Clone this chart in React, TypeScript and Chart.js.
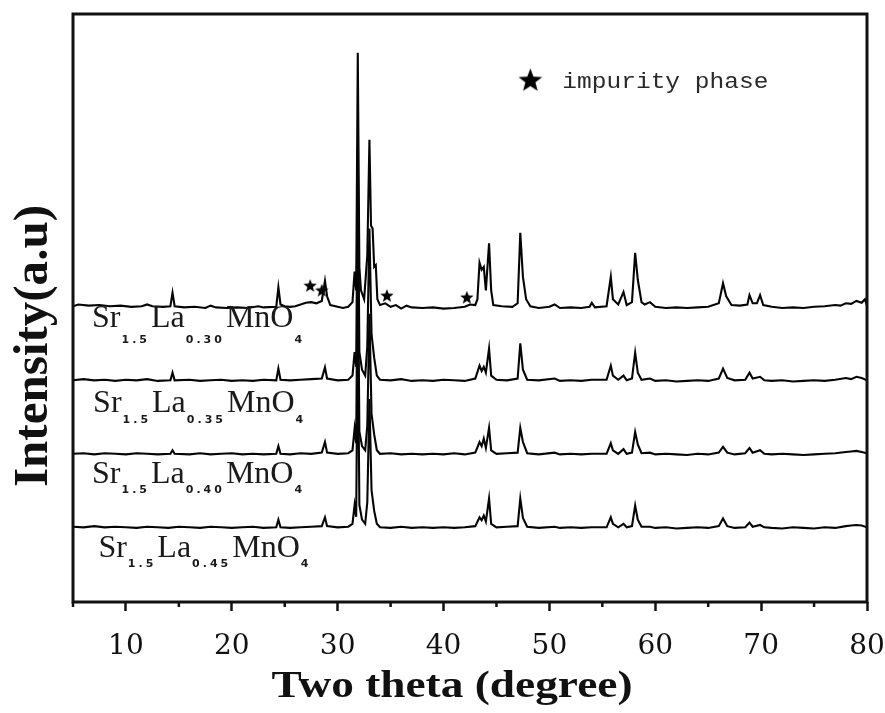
import { useEffect, useRef } from "react";
import { Chart, registerables } from "chart.js";

Chart.register(...registerables);

// ---------- data ----------
// relative intensities (a.u.) above each pattern's own baseline, [2θ, I]
const pattern030: [number, number][] = [
  [5.0, 0.3], [5.5, 0.6], [6.5, 0.4], [7.5, 0.5], [8.5, 0.3], [9.5, 0.4], [10.5, 0.2], [11.5, 0.3],
  [12.0, 0.6], [12.5, 0.3], [13.5, 0.2], [14.2, 0.3], [14.4, 2.6], [14.6, 0.3], [15.5, 0.1],
  [16.5, 0.2], [17.5, 0.0], [18.0, 0.4], [18.5, 0.1], [19.5, 0.0], [20.5, 0.1], [21.5, 0.0],
  [22.5, 0.3], [23.0, 0.1], [24.2, 0.2], [24.4, 3.5], [24.6, 0.6], [25.0, 0.3], [25.5, 0.2],
  [26.0, 0.3], [26.5, 0.6], [27.0, 0.9], [27.5, 1.0], [28.0, 0.8], [28.5, 1.2], [28.8, 4.6],
  [29.0, 2.0], [29.3, 0.5], [30.0, 0.2], [30.5, 0.0], [31.0, 0.2], [31.4, 1.0], [31.6, 6.2],
  [31.75, 3.0], [31.9, 43.4], [32.05, 7.0], [32.2, 3.0], [32.5, 1.5], [32.8, 9.0], [33.0, 28.6],
  [33.15, 14.0], [33.3, 13.5], [33.45, 7.0], [33.6, 7.3], [33.75, 1.5], [34.0, 0.5], [34.5, 0.8],
  [35.0, 0.2], [35.5, 0.5], [36.0, -0.1], [36.5, 0.4], [37.0, 0.1], [38.0, 0.0], [39.0, 0.1],
  [40.0, -0.1], [41.0, 0.0], [42.0, 0.2], [42.5, 0.6], [43.0, 0.5], [43.2, 1.5], [43.4, 7.7],
  [43.6, 6.5], [43.8, 7.0], [44.0, 3.0], [44.3, 11.0], [44.5, 3.0], [44.7, 0.5], [45.5, 0.3],
  [46.5, 0.2], [47.0, 0.8], [47.25, 12.8], [47.5, 5.3], [47.8, 1.5], [48.2, 0.3], [49.0, 0.0],
  [50.0, 0.2], [50.5, 0.6], [51.0, 0.0], [52.0, 0.1], [53.0, 0.0], [53.8, 0.2], [54.0, 0.9],
  [54.3, 0.1], [55.4, 0.3], [55.8, 5.3], [56.0, 1.5], [56.5, 0.6], [57.0, 2.7], [57.3, 0.5],
  [57.8, 1.0], [58.1, 9.4], [58.35, 4.8], [58.7, 1.0], [59.0, 0.6], [59.5, 1.0], [60.0, 0.2],
  [61.0, 0.0], [62.0, 0.1], [63.0, 0.0], [64.0, 0.1], [65.0, 0.2], [66.0, 0.8], [66.4, 4.2],
  [66.7, 2.0], [67.2, 0.5], [68.0, 0.4], [68.7, 0.6], [68.9, 2.2], [69.2, 0.8], [69.6, 0.8],
  [69.9, 2.2], [70.2, 0.5], [71.0, 0.2], [72.0, 0.0], [73.0, 0.1], [74.0, 0.0], [75.0, 0.2],
  [76.0, 0.3], [77.0, 0.5], [77.5, 0.4], [78.0, 0.8], [78.5, 0.7], [79.0, 1.2], [79.5, 0.9],
  [79.8, 1.5], [80.0, 0.4],
];

const pattern035: [number, number][] = [
  [5.0, 0.2], [6.0, 0.4], [7.0, 0.2], [8.0, 0.3], [9.0, 0.1], [10.0, 0.3], [11.0, 0.2], [12.0, 0.4],
  [13.0, 0.1], [14.2, 0.2], [14.4, 1.5], [14.6, 0.2], [16.0, 0.3], [17.0, 0.1], [18.0, 0.2],
  [19.0, 0.3], [20.0, 0.1], [21.0, 0.2], [22.0, 0.1], [23.0, 0.3], [24.2, 0.2], [24.4, 2.2],
  [24.6, 0.3], [25.5, 0.2], [26.5, 0.3], [27.5, 0.4], [28.5, 0.5], [28.8, 2.4], [29.0, 0.5],
  [30.0, 0.2], [31.0, 0.3], [31.4, 1.0], [31.6, 5.0], [31.75, 2.5], [31.9, 40.0], [32.05, 5.0],
  [32.3, 2.0], [32.6, 1.0], [32.8, 6.0], [33.0, 26.0], [33.2, 8.0], [33.45, 4.0], [33.7, 1.0],
  [34.0, 0.3], [35.0, 0.2], [36.0, 0.4], [37.0, 0.1], [38.0, 0.2], [39.0, 0.1], [40.0, 0.3],
  [41.0, 0.2], [42.0, 0.1], [43.0, 0.5], [43.4, 2.7], [43.6, 1.8], [43.8, 2.5], [44.0, 1.5],
  [44.3, 5.6], [44.5, 1.0], [45.0, 0.3], [46.0, 0.2], [47.0, 0.5], [47.25, 6.5], [47.5, 2.0],
  [47.9, 0.3], [49.0, 0.2], [50.5, 0.5], [51.0, 0.1], [52.0, 0.2], [53.0, 0.1], [54.0, 0.3],
  [55.4, 0.3], [55.8, 2.7], [56.0, 1.0], [56.5, 0.3], [57.0, 1.0], [57.3, 0.2], [57.8, 0.5],
  [58.1, 4.9], [58.35, 1.5], [58.7, 0.3], [59.5, 0.5], [60.0, 0.1], [61.0, 0.2], [62.0, 0.0],
  [63.0, 0.1], [64.0, 0.2], [65.0, 0.1], [66.0, 0.5], [66.4, 2.2], [66.8, 0.6], [67.5, 0.2],
  [68.5, 0.3], [68.9, 1.5], [69.2, 0.5], [69.9, 0.8], [70.3, 0.2], [71.0, 0.1], [72.0, 0.2],
  [73.0, 0.0], [74.0, 0.1], [75.0, 0.2], [76.0, 0.1], [77.0, 0.3], [78.0, 0.6], [78.5, 0.4],
  [79.0, 0.8], [79.5, 0.6], [80.0, 0.2],
];

const pattern040: [number, number][] = [
  [5.0, 0.2], [6.0, 0.3], [7.0, 0.1], [8.0, 0.3], [9.0, 0.2], [10.0, 0.1], [11.0, 0.3], [12.0, 0.2],
  [13.0, 0.1], [14.2, 0.2], [14.4, 0.8], [14.6, 0.2], [16.0, 0.1], [17.0, 0.3], [18.0, 0.1],
  [19.0, 0.2], [20.0, 0.3], [21.0, 0.1], [22.0, 0.2], [23.0, 0.1], [24.2, 0.2], [24.4, 1.5],
  [24.6, 0.2], [25.5, 0.1], [26.5, 0.3], [27.5, 0.2], [28.5, 0.4], [28.8, 2.2], [29.0, 0.4],
  [30.0, 0.2], [31.0, 0.3], [31.4, 0.8], [31.6, 4.5], [31.75, 2.0], [31.9, 38.0], [32.05, 4.0],
  [32.3, 1.5], [32.6, 0.8], [32.8, 5.0], [33.0, 24.0], [33.2, 7.0], [33.45, 3.5], [33.7, 0.8],
  [34.0, 0.2], [35.0, 0.3], [36.0, 0.1], [37.0, 0.2], [38.0, 0.1], [39.0, 0.2], [40.0, 0.1],
  [41.0, 0.3], [42.0, 0.1], [43.0, 0.4], [43.4, 2.2], [43.6, 1.5], [43.8, 2.8], [44.0, 1.2],
  [44.3, 4.6], [44.5, 0.8], [45.0, 0.2], [46.0, 0.3], [47.0, 0.4], [47.25, 4.6], [47.5, 2.2],
  [47.9, 0.3], [49.0, 0.1], [50.5, 0.4], [51.0, 0.1], [52.0, 0.2], [53.0, 0.1], [54.0, 0.2],
  [55.4, 0.2], [55.8, 2.0], [56.0, 0.8], [56.5, 0.2], [57.0, 1.0], [57.3, 0.2], [57.8, 0.4],
  [58.1, 3.9], [58.35, 1.8], [58.7, 0.3], [59.5, 0.4], [60.0, 0.1], [61.0, 0.2], [62.0, 0.1],
  [63.0, 0.0], [64.0, 0.2], [65.0, 0.1], [66.0, 0.4], [66.4, 1.4], [66.8, 0.4], [67.5, 0.1],
  [68.5, 0.3], [68.9, 1.2], [69.2, 0.4], [69.9, 0.8], [70.3, 0.2], [71.0, 0.1], [72.0, 0.2],
  [73.0, 0.1], [74.0, 0.0], [75.0, 0.1], [76.0, 0.2], [77.0, 0.3], [78.0, 0.5], [78.5, 0.6],
  [79.0, 0.7], [79.5, 0.5], [80.0, 0.3],
];

const pattern045: [number, number][] = [
  [5.0, 0.3], [6.0, 0.2], [7.0, 0.4], [8.0, 0.2], [9.0, 0.3], [10.0, 0.2], [11.0, 0.1], [12.0, 0.3],
  [13.0, 0.2], [14.0, 0.1], [15.0, 0.3], [16.0, 0.2], [17.0, 0.1], [18.0, 0.3], [19.0, 0.2],
  [20.0, 0.1], [21.0, 0.2], [22.0, 0.3], [23.0, 0.1], [24.2, 0.2], [24.4, 1.5], [24.6, 0.2],
  [25.5, 0.1], [26.5, 0.2], [27.5, 0.3], [28.5, 0.4], [28.8, 1.9], [29.0, 0.4], [30.0, 0.2],
  [31.0, 0.3], [31.4, 0.8], [31.6, 4.0], [31.75, 2.0], [31.9, 36.0], [32.05, 4.0], [32.3, 1.5],
  [32.6, 0.8], [32.8, 4.5], [33.0, 22.0], [33.2, 6.5], [33.45, 3.0], [33.7, 0.8], [34.0, 0.2],
  [35.0, 0.1], [36.0, 0.3], [37.0, 0.1], [38.0, 0.2], [39.0, 0.1], [40.0, 0.2], [41.0, 0.1],
  [42.0, 0.2], [43.0, 0.4], [43.4, 1.9], [43.6, 1.4], [43.8, 2.2], [44.0, 1.2], [44.3, 5.1],
  [44.5, 0.8], [45.0, 0.2], [46.0, 0.3], [47.0, 0.4], [47.25, 5.1], [47.5, 1.8], [47.9, 0.3],
  [49.0, 0.1], [50.5, 0.3], [51.0, 0.1], [52.0, 0.2], [53.0, 0.1], [54.0, 0.2], [55.4, 0.2],
  [55.8, 1.9], [56.0, 0.8], [56.5, 0.2], [57.0, 0.8], [57.3, 0.2], [57.8, 0.4], [58.1, 3.9],
  [58.35, 1.5], [58.7, 0.3], [59.5, 0.3], [60.0, 0.1], [61.0, 0.2], [62.0, 0.0], [63.0, 0.1],
  [64.0, 0.2], [65.0, 0.1], [66.0, 0.4], [66.4, 1.7], [66.8, 0.4], [67.5, 0.1], [68.5, 0.2],
  [68.9, 1.0], [69.2, 0.3], [69.9, 0.6], [70.3, 0.2], [71.0, 0.1], [72.0, 0.0], [73.0, 0.2],
  [74.0, 0.1], [75.0, 0.0], [76.0, 0.2], [77.0, 0.1], [78.0, 0.4], [78.5, 0.5], [79.0, 0.6],
  [79.5, 0.5], [80.0, 0.2],
];

const patterns = [pattern030, pattern035, pattern040, pattern045];
const baselineOffsets = [50, 37.5, 25, 12.5];
const laContents = ["0.30", "0.35", "0.40", "0.45"];
const srContent = "1.5";

// impurity-phase markers on the La 0.30 pattern, [2θ, absolute intensity]
const impurityStars: [number, number][] = [[27.4, 53.9], [28.5, 53.1], [34.65, 52.2], [42.2, 51.9]];
const legendStar: [number, number][] = [[48.2, 88.8]];
const legendText = "impurity phase";

const xMajorTicks = [10, 20, 30, 40, 50, 60, 70, 80];
const xMinorTicks = [5, 15, 25, 35, 45, 55, 65, 75];
const xTitle = "Two theta (degree)";
const yTitle = "Intensity(a.u)";

// annotation anchors for the sample names (2θ, intensity of text baseline)
const labelAnchors: [number, number][] = [[6.8, 46.8], [6.9, 32.3], [6.8, 20.2], [7.4, 7.65]];
const subOffsets = [16, 11, 10, 10];

function makeStar(size: number): HTMLCanvasElement {
  const c = document.createElement("canvas");
  c.width = size;
  c.height = size;
  const g = c.getContext("2d")!;
  const R = size / 2;
  const r = R * 0.42;
  g.beginPath();
  for (let i = 0; i < 10; i++) {
    const rad = i % 2 === 0 ? R : r;
    const a = -Math.PI / 2 + (i * Math.PI) / 5;
    const px = R + rad * Math.cos(a);
    const py = R + 1 + rad * Math.sin(a);
    if (i === 0) g.moveTo(px, py);
    else g.lineTo(px, py);
  }
  g.closePath();
  g.fillStyle = "#000";
  g.fill();
  return c;
}

function drawFitted(
  ctx: CanvasRenderingContext2D, text: string, x: number, y: number,
  font: string, width: number, angle: number, align: CanvasTextAlign = "center"
) {
  ctx.save();
  ctx.font = font;
  const w = ctx.measureText(text).width;
  ctx.translate(x, y);
  ctx.rotate(angle);
  ctx.scale(width / w, 1);
  ctx.textAlign = align;
  ctx.textBaseline = "alphabetic";
  ctx.fillText(text, 0, 0);
  ctx.restore();
}

export default function App() {
  const ref = useRef<HTMLCanvasElement | null>(null);

  useEffect(() => {
    if (!ref.current) return;

    const decorPlugin = {
      id: "decor",
      afterDatasetsDraw(chart: any) {
        const ctx: CanvasRenderingContext2D = chart.ctx;
        const { left, right, top, bottom } = chart.chartArea;
        const xs = chart.scales.x;
        const ys = chart.scales.y;
        ctx.save();
        // frame
        ctx.strokeStyle = "#111";
        ctx.lineWidth = 3;
        ctx.strokeRect(left, top, right - left, bottom - top);
        // minor ticks
        ctx.lineWidth = 2.5;
        xMinorTicks.forEach((v) => {
          const px = xs.getPixelForValue(v);
          ctx.beginPath();
          ctx.moveTo(px, bottom);
          ctx.lineTo(px, bottom + 5);
          ctx.stroke();
        });
        // sample names
        ctx.fillStyle = "#1a1a1a";
        labelAnchors.forEach(([lx, ly], i) => {
          const parts = ["Sr", srContent, "La", laContents[i], "MnO", "4"];
          let x = xs.getPixelForValue(lx);
          const y = ys.getPixelForValue(ly);
          parts.forEach((p, k) => {
            if (k % 2 === 0) {
              ctx.font = "32px 'Liberation Serif'";
              (ctx as any).letterSpacing = "0px";
              ctx.textAlign = "left";
              ctx.textBaseline = "alphabetic";
              ctx.fillText(p, x, y);
              x += ctx.measureText(p).width + 1;
            } else {
              ctx.font = "bold 11px 'DejaVu Sans'";
              (ctx as any).letterSpacing = "3px";
              ctx.textAlign = "left";
              ctx.textBaseline = "alphabetic";
              ctx.fillText(p, x, y + subOffsets[i]);
              x += ctx.measureText(p).width + 1;
            }
          });
        });
        (ctx as any).letterSpacing = "0px";
        // legend text
        const sx = xs.getPixelForValue(legendStar[0][0]);
        const sy = ys.getPixelForValue(legendStar[0][1]);
        ctx.fillStyle = "#2a2a2a";
        drawFitted(ctx, legendText, sx + 32, sy + 8, "22px 'Liberation Mono'", 206, 0, "left");
        // axis titles
        ctx.fillStyle = "#111";
        drawFitted(ctx, xTitle, 452, 697, "bold 38px 'Liberation Serif'", 361, 0);
        drawFitted(ctx, yTitle, 47, 346, "bold 48px 'Liberation Serif'", 282, -Math.PI / 2);
        ctx.restore();
      },
    };

    const lineSets = patterns.map((pts, i) => ({
      label: "Sr" + srContent + "La" + laContents[i] + "MnO4",
      data: pts.map(([x, y]) => ({ x, y: y + baselineOffsets[i] })),
      showLine: true,
      borderColor: "#050505",
      borderWidth: 2.1,
      pointRadius: 0,
      tension: 0,
    }));

    const chart = new Chart(ref.current, {
      type: "scatter",
      data: {
        datasets: [
          ...lineSets,
          {
            label: "impurity phase",
            data: impurityStars.map(([x, y]) => ({ x, y })),
            showLine: false,
            pointStyle: makeStar(14) as any,
            pointRadius: 7,
          },
          {
            label: "legend star",
            data: legendStar.map(([x, y]) => ({ x, y })),
            showLine: false,
            pointStyle: makeStar(25) as any,
            pointRadius: 12,
          },
        ] as any,
      },
      options: {
        animation: false,
        responsive: true,
        maintainAspectRatio: false,
        layout: { padding: { top: 14, right: 18, left: 0, bottom: 0 } },
        plugins: { legend: { display: false }, tooltip: { enabled: false } },
        scales: {
          x: {
            type: "linear",
            min: 5,
            max: 80,
            afterFit: (s: any) => { s.height = 111; s.paddingLeft = 0; s.paddingRight = 0; },
            afterBuildTicks: (s: any) => { s.ticks = xMajorTicks.map((v) => ({ value: v })); },
            grid: {
              display: true,
              drawOnChartArea: false,
              drawTicks: true,
              tickLength: 9,
              tickWidth: 2.5,
              tickColor: "#111",
            },
            border: { display: false },
            ticks: {
              color: "#111",
              font: { family: "'DejaVu Serif'", size: 28 },
              padding: 19,
              maxRotation: 0,
              autoSkip: false,
            },
          },
          y: {
            type: "linear",
            min: 0,
            max: 100,
            afterFit: (s: any) => { s.width = 73; s.paddingTop = 0; s.paddingBottom = 0; },
            grid: { display: false },
            border: { display: false },
            ticks: { display: false },
          },
        },
      } as any,
      plugins: [decorPlugin],
    });

    return () => chart.destroy();
  }, []);

  return (
    <div style={{ position: "absolute", left: 0, top: 0, width: 885, height: 713, background: "#fff" }}>
      <canvas ref={ref} />
    </div>
  );
}
